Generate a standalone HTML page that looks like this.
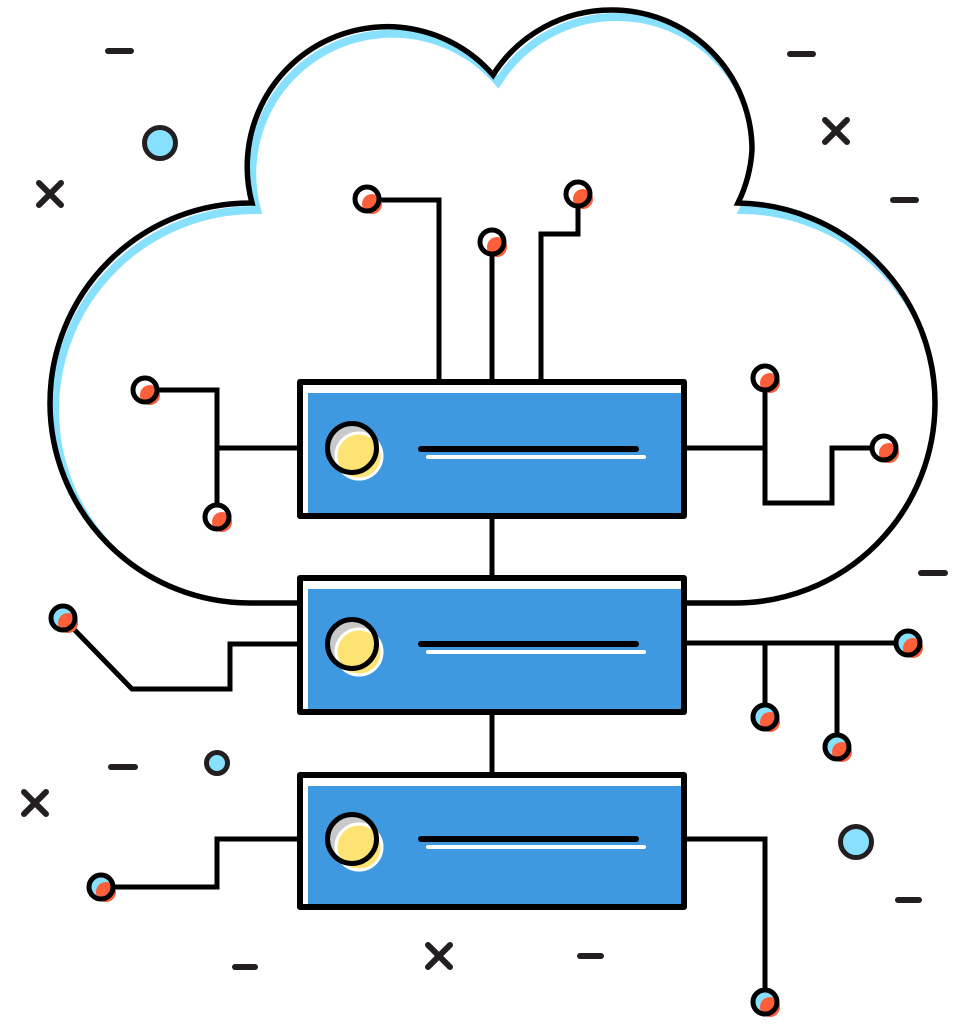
<!DOCTYPE html>
<html><head><meta charset="utf-8"><style>html,body{margin:0;padding:0;background:#fff}svg{display:block}</style></head>
<body>
<svg width="970" height="1024" viewBox="0 0 970 1024" xmlns="http://www.w3.org/2000/svg">
<defs>
<clipPath id="cin"><path d="M250,603 A200,200 0 0 1 50,403 A200,200 0 0 1 252,203 A140,140 0 0 1 493,75 A140,140 0 0 1 612,10 A140,140 0 0 1 752,150 A140,140 0 0 1 738,203 A200,200 0 0 1 935,403 A200,200 0 0 1 735,603 Z"/></clipPath>
</defs>
<rect width="970" height="1024" fill="#fff"/>
<!-- cloud blue highlight -->
<g clip-path="url(#cin)">
<path transform="translate(5,7)" d="M250,603 A200,200 0 0 1 50,403 A200,200 0 0 1 252,203 A140,140 0 0 1 493,75 A140,140 0 0 1 612,10 A140,140 0 0 1 752,150 A140,140 0 0 1 738,203 A200,200 0 0 1 935,403 A200,200 0 0 1 735,603" fill="none" stroke="#87e0fd" stroke-width="8"/>
</g>
<!-- cloud outline -->
<path d="M300,603 H250 A200,200 0 0 1 50,403 A200,200 0 0 1 252,203 A140,140 0 0 1 493,75 A140,140 0 0 1 612,10 A140,140 0 0 1 752,150 A140,140 0 0 1 738,203 A200,200 0 0 1 935,403 A200,200 0 0 1 735,603 H686" fill="none" stroke="#000" stroke-width="5.5"/>

<!-- connectors -->
<g fill="none" stroke="#000" stroke-width="5">
<path d="M439,380 V200 H367"/>
<path d="M492,380 V242"/>
<path d="M541,380 V234 H578 V194"/>
<path d="M299,448 H217"/>
<path d="M145,390 H217 V517"/>
<path d="M686,448 H765"/>
<path d="M765,378 V503 H832 V448 H884"/>
<path d="M492,515 V578"/>
<path d="M492,711 V774"/>
<path d="M299,644 H230 V689 H132 L63,618"/>
<path d="M686,643 H908"/>
<path d="M765,643 V717"/>
<path d="M837,643 V747"/>
<path d="M299,839 H217 V887 H101"/>
<path d="M686,839 H765 V1002"/>
</g>

<!-- boxes -->
<g>
<rect x="300" y="382" width="384" height="134" fill="#fff" stroke="#000" stroke-width="6" stroke-linejoin="round"/>
<rect x="308" y="393" width="373" height="120" fill="#3e99e0"/>
<rect x="300" y="578" width="384" height="134" fill="#fff" stroke="#000" stroke-width="6" stroke-linejoin="round"/>
<rect x="308" y="589" width="373" height="120" fill="#3e99e0"/>
<rect x="300" y="775" width="384" height="132" fill="#fff" stroke="#000" stroke-width="6" stroke-linejoin="round"/>
<rect x="308" y="786" width="373" height="118" fill="#3e99e0"/>
</g>

<!-- buttons -->
<g>
<circle cx="352" cy="448" r="22" fill="#c9c9c9"/>
<circle cx="359" cy="456" r="23" fill="#fde373" stroke="#fff" stroke-width="3"/>
<circle cx="352" cy="448" r="24.5" fill="none" stroke="#000" stroke-width="5"/>
<circle cx="352" cy="644" r="22" fill="#c9c9c9"/>
<circle cx="359" cy="652" r="23" fill="#fde373" stroke="#fff" stroke-width="3"/>
<circle cx="352" cy="644" r="24.5" fill="none" stroke="#000" stroke-width="5"/>
<circle cx="352" cy="839" r="22" fill="#c9c9c9"/>
<circle cx="359" cy="847" r="23" fill="#fde373" stroke="#fff" stroke-width="3"/>
<circle cx="352" cy="839" r="24.5" fill="none" stroke="#000" stroke-width="5"/>
</g>
<g stroke-linecap="round" fill="none">
<path d="M428,457 H644" stroke="#fff" stroke-width="4"/>
<path d="M421,449 H636" stroke="#000" stroke-width="6"/>
<path d="M428,652 H644" stroke="#fff" stroke-width="4"/>
<path d="M421,644 H636" stroke="#000" stroke-width="6"/>
<path d="M428,847 H644" stroke="#fff" stroke-width="4"/>
<path d="M421,839 H636" stroke="#000" stroke-width="6"/>
</g>

<!-- nodes -->
<g id="nodes">
<g><circle cx="367" cy="199" r="10" fill="#fff"/><circle cx="372" cy="204" r="10" fill="#fe5f3b"/><circle cx="367" cy="199" r="12" fill="none" stroke="#000" stroke-width="5"/></g>
<g><circle cx="492" cy="242" r="10" fill="#fff"/><circle cx="497" cy="247" r="10" fill="#fe5f3b"/><circle cx="492" cy="242" r="12" fill="none" stroke="#000" stroke-width="5"/></g>
<g><circle cx="578" cy="194" r="10" fill="#fff"/><circle cx="583" cy="199" r="10" fill="#fe5f3b"/><circle cx="578" cy="194" r="12" fill="none" stroke="#000" stroke-width="5"/></g>
<g><circle cx="145" cy="390" r="10" fill="#fff"/><circle cx="150" cy="395" r="10" fill="#fe5f3b"/><circle cx="145" cy="390" r="12" fill="none" stroke="#000" stroke-width="5"/></g>
<g><circle cx="217" cy="517" r="10" fill="#fff"/><circle cx="222" cy="522" r="10" fill="#fe5f3b"/><circle cx="217" cy="517" r="12" fill="none" stroke="#000" stroke-width="5"/></g>
<g><circle cx="765" cy="378" r="10" fill="#fff"/><circle cx="770" cy="383" r="10" fill="#fe5f3b"/><circle cx="765" cy="378" r="12" fill="none" stroke="#000" stroke-width="5"/></g>
<g><circle cx="884" cy="448" r="10" fill="#fff"/><circle cx="889" cy="453" r="10" fill="#fe5f3b"/><circle cx="884" cy="448" r="12" fill="none" stroke="#000" stroke-width="5"/></g>
<g><circle cx="63" cy="618" r="10" fill="#87e0fd"/><circle cx="68" cy="623" r="10" fill="#fe5f3b"/><circle cx="63" cy="618" r="12" fill="none" stroke="#000" stroke-width="5"/></g>
<g><circle cx="908" cy="643" r="10" fill="#87e0fd"/><circle cx="913" cy="648" r="10" fill="#fe5f3b"/><circle cx="908" cy="643" r="12" fill="none" stroke="#000" stroke-width="5"/></g>
<g><circle cx="765" cy="717" r="10" fill="#87e0fd"/><circle cx="770" cy="722" r="10" fill="#fe5f3b"/><circle cx="765" cy="717" r="12" fill="none" stroke="#000" stroke-width="5"/></g>
<g><circle cx="837" cy="747" r="10" fill="#87e0fd"/><circle cx="842" cy="752" r="10" fill="#fe5f3b"/><circle cx="837" cy="747" r="12" fill="none" stroke="#000" stroke-width="5"/></g>
<g><circle cx="101" cy="887" r="10" fill="#87e0fd"/><circle cx="106" cy="892" r="10" fill="#fe5f3b"/><circle cx="101" cy="887" r="12" fill="none" stroke="#000" stroke-width="5"/></g>
<g><circle cx="765" cy="1002" r="10" fill="#87e0fd"/><circle cx="770" cy="1007" r="10" fill="#fe5f3b"/><circle cx="765" cy="1002" r="12" fill="none" stroke="#000" stroke-width="5"/></g>
</g>

<!-- decorations -->
<g stroke="#231f20" stroke-width="6" stroke-linecap="round" fill="none">
<path d="M108,51 H131"/>
<path d="M790,54 H813"/>
<path d="M893,200 H916"/>
<path d="M921,573 H945"/>
<path d="M111,767 H135"/>
<path d="M235,967 H255"/>
<path d="M580,956 H601"/>
<path d="M898,900 H919"/>
<path d="M39,183 L61,205 M61,183 L39,205"/>
<path d="M825,120 L847,142 M847,120 L825,142"/>
<path d="M24,792 L46,814 M46,792 L24,814"/>
<path d="M428,945 L450,967 M450,945 L428,967"/>
</g>
<g stroke="#231f20" stroke-width="5" fill="#87e0fd">
<circle cx="160" cy="143" r="15.5"/>
<circle cx="217" cy="763" r="10.5"/>
<circle cx="856" cy="842" r="15.5"/>
</g>
</svg>
</body></html>
